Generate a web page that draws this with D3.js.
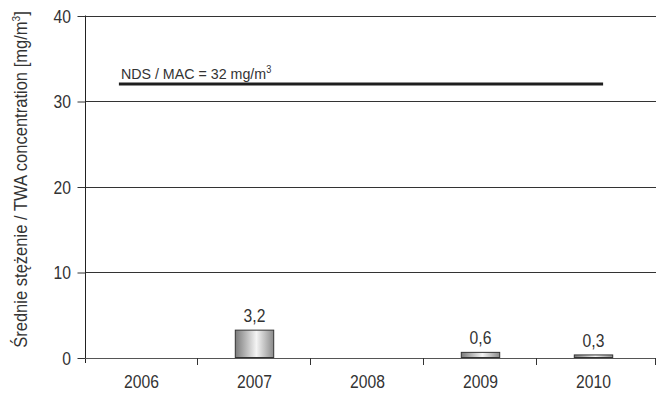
<!DOCTYPE html>
<html>
<head>
<meta charset="utf-8">
<script src="https://cdn.jsdelivr.net/npm/d3@7"></script>
<style>
  html, body { margin: 0; padding: 0; background: #fff; }
  svg text { font-family: "Liberation Sans", Arial, "DejaVu Sans", sans-serif; fill: #333; }
</style>
</head>
<body>
<svg id="chart" width="658" height="394"></svg>
<script>
// Yearly mean TWA concentrations
const years = ["2006", "2007", "2008", "2009", "2010"];
const values = [null, 3.2, null, 0.6, 0.3];
const valueLabels = ["", "3,2", "", "0,6", "0,3"];
const yTicks = [0, 10, 20, 30, 40];
const limitValue = 32;
const limitLabel = "NDS / MAC = 32 mg/m";

const svg = d3.select("#chart");
const m = { left: 85, right: 656, plotRight: 650, top: 15.5, bottom: 357.5 };
const narrow = 0.87; // horizontal squeeze giving a condensed face

const x = d3.scaleBand().domain(years).range([m.left, m.plotRight]).paddingInner(0).paddingOuter(0);
const y = d3.scaleLinear().domain([0, 40]).range([m.bottom, m.top]);

// condensed text placed at (px, py)
function label(g, px, py, str, size, anchor) {
  return g.append("text")
    .attr("transform", `translate(${px},${py}) scale(${narrow},1)`)
    .attr("text-anchor", anchor || "middle")
    .attr("font-size", size)
    .text(str);
}

// gradient fill for bars
const defs = svg.append("defs");
const grad = defs.append("linearGradient").attr("id", "barGrad")
  .attr("x1", "0%").attr("x2", "100%").attr("y1", "0%").attr("y2", "0%");
grad.append("stop").attr("offset", "0%").attr("stop-color", "#7a7a7a");
grad.append("stop").attr("offset", "55%").attr("stop-color", "#f4f4f4");
grad.append("stop").attr("offset", "100%").attr("stop-color", "#8a8a8a");

// horizontal grid lines
svg.append("g").selectAll("line").data(yTicks.filter(d => d > 0)).join("line")
  .attr("x1", m.left).attr("x2", m.right)
  .attr("y1", d => Math.round(y(d)) + 0.5).attr("y2", d => Math.round(y(d)) + 0.5)
  .attr("stroke", "#333").attr("stroke-width", 1);

// y axis: line and ticks from d3.axisLeft, labels squeezed separately
const yAxis = d3.axisLeft(y).tickValues(yTicks).tickSize(8).tickFormat(() => "");
const gy = svg.append("g").attr("transform", `translate(${m.left + 0.5},0.5)`).call(yAxis);
gy.select(".domain").attr("d", `M0,${m.top - 0.5}V${m.bottom + 5}`).attr("stroke", "#222");
gy.selectAll(".tick line").attr("stroke", "#333");
const gyl = svg.append("g");
yTicks.forEach(t => label(gyl, 71, y(t) + 7, d3.format("d")(t), 18, "end"));

// x axis baseline and category separators
const gx = svg.append("g");
gx.append("line").attr("x1", m.left).attr("x2", m.right)
  .attr("y1", Math.round(m.bottom) + 0.5).attr("y2", Math.round(m.bottom) + 0.5)
  .attr("stroke", "#555");
const sepPos = years.slice(1).map(d => x(d)).concat([m.right]);
gx.selectAll("line.sep").data(sepPos).join("line").attr("class", "sep")
  .attr("x1", d => Math.round(d) - 0.5).attr("x2", d => Math.round(d) - 0.5)
  .attr("y1", Math.round(m.bottom)).attr("y2", Math.round(m.bottom) + 7)
  .attr("stroke", "#333");
years.forEach(d => label(gx, x(d) + x.bandwidth() / 2, 388, d, 18));

// bars
const barW = x.bandwidth() * 0.34;
const barData = years.map((d, i) => ({ year: d, v: values[i], label: valueLabels[i] })).filter(d => d.v !== null);
svg.append("g").selectAll("rect").data(barData).join("rect")
  .attr("x", d => x(d.year) + x.bandwidth() / 2 - barW / 2)
  .attr("y", d => y(d.v))
  .attr("width", barW)
  .attr("height", d => y(0) - y(d.v))
  .attr("fill", "url(#barGrad)")
  .attr("stroke", "#333").attr("stroke-width", 1);

const gv = svg.append("g");
barData.forEach(d => label(gv, x(d.year) + x.bandwidth() / 2, y(d.v) - 8, d.label, 18));

// exposure limit line
const limX1 = x("2006") + x.bandwidth() * 0.3;
const limX2 = x("2010") + x.bandwidth() * 0.585;
svg.append("line")
  .attr("x1", limX1).attr("x2", limX2)
  .attr("y1", y(limitValue)).attr("y2", y(limitValue))
  .attr("stroke", "#1e1e1e").attr("stroke-width", 3);
const lt = svg.append("text")
  .attr("transform", `translate(${limX1 + 2},${y(limitValue) - 5}) scale(0.92,1)`)
  .attr("font-size", 15.5);
lt.append("tspan").text(limitLabel);
lt.append("tspan").attr("font-size", 10).attr("dy", -6).text("3");

// y axis title
const yt = svg.append("text")
  .attr("transform", `translate(27,179.5) rotate(-90) scale(0.92,1)`)
  .attr("text-anchor", "middle")
  .attr("font-size", 18);
yt.append("tspan").text("Średnie stężenie / TWA concentration [mg/m");
yt.append("tspan").attr("font-size", 11).attr("dy", -7).text("3");
yt.append("tspan").attr("dy", 7).text("]");
</script>
</body>
</html>
